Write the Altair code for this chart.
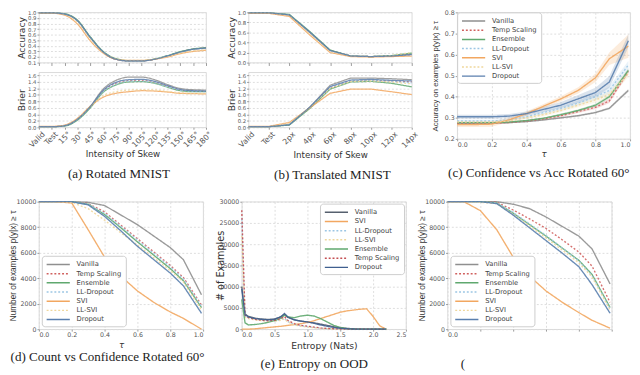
import altair as alt
import pandas as pd

# ---------------- shared ----------------
methods = ["Vanilla", "Temp Scaling", "Ensemble", "LL-Dropout", "SVI", "LL-SVI", "Dropout"]
method_colors = ["#8f8f8f", "#d0605e", "#5fa86e", "#9cc6e4", "#f2a760", "#efd79c", "#5a7fae"]
method_dashes = [[1, 0], [2, 2], [1, 0], [2, 2], [1, 0], [2, 2], [1, 0]]

e_methods = ["Vanilla", "SVI", "LL-Dropout", "LL-SVI", "Ensemble", "Temp Scaling", "Dropout"]
e_colors = ["#56606e", "#f2a760", "#9cc6e4", "#efd79c", "#5fa86e", "#c44e52", "#3f5f8f"]
e_dashes = [[1, 0], [1, 0], [2, 2], [2, 2], [1, 0], [2, 2], [1, 0]]

# ---------------- (a) Rotated MNIST ----------------
a_x = ["Valid", "Test", "15°", "30°", "45°", "60°", "75°", "90°", "105°", "120°", "135°", "150°", "165°", "180°"]
a_acc = {
    "Vanilla":      [0.99, 0.99, 0.97, 0.85, 0.55, 0.29, 0.16, 0.13, 0.13, 0.16, 0.22, 0.29, 0.34, 0.36],
    "Temp Scaling": [0.99, 0.99, 0.97, 0.85, 0.55, 0.29, 0.16, 0.13, 0.13, 0.16, 0.22, 0.29, 0.34, 0.36],
    "Ensemble":     [0.99, 0.99, 0.975, 0.86, 0.56, 0.30, 0.17, 0.135, 0.135, 0.165, 0.225, 0.295, 0.345, 0.365],
    "LL-Dropout":   [0.99, 0.99, 0.97, 0.84, 0.54, 0.29, 0.16, 0.13, 0.13, 0.16, 0.22, 0.28, 0.33, 0.35],
    "SVI":          [0.985, 0.985, 0.95, 0.79, 0.49, 0.27, 0.16, 0.14, 0.14, 0.16, 0.20, 0.26, 0.30, 0.32],
    "LL-SVI":       [0.99, 0.99, 0.96, 0.82, 0.52, 0.28, 0.17, 0.14, 0.14, 0.16, 0.21, 0.27, 0.31, 0.33],
    "Dropout":      [0.99, 0.99, 0.97, 0.85, 0.55, 0.29, 0.16, 0.13, 0.13, 0.16, 0.22, 0.29, 0.34, 0.36],
}
a_brier = {
    "Vanilla":      [0.02, 0.02, 0.05, 0.25, 0.65, 1.18, 1.45, 1.55, 1.55, 1.47, 1.32, 1.20, 1.16, 1.15],
    "Temp Scaling": [0.02, 0.02, 0.05, 0.24, 0.63, 1.12, 1.36, 1.44, 1.45, 1.39, 1.27, 1.15, 1.12, 1.11],
    "Ensemble":     [0.02, 0.02, 0.04, 0.22, 0.60, 1.08, 1.31, 1.40, 1.41, 1.36, 1.24, 1.13, 1.10, 1.10],
    "LL-Dropout":   [0.02, 0.02, 0.05, 0.24, 0.63, 1.10, 1.33, 1.42, 1.43, 1.37, 1.25, 1.14, 1.11, 1.10],
    "SVI":          [0.03, 0.03, 0.07, 0.28, 0.65, 0.93, 1.05, 1.10, 1.13, 1.12, 1.09, 1.05, 1.04, 1.03],
    "LL-SVI":       [0.02, 0.02, 0.06, 0.26, 0.64, 0.98, 1.10, 1.15, 1.16, 1.15, 1.11, 1.07, 1.05, 1.05],
    "Dropout":      [0.02, 0.02, 0.05, 0.25, 0.64, 1.14, 1.39, 1.47, 1.48, 1.42, 1.29, 1.17, 1.13, 1.12],
}

# ---------------- (b) Translated MNIST ----------------
b_x = ["Valid", "Test", "2px", "4px", "6px", "8px", "10px", "12px", "14px"]
b_acc = {
    "Vanilla":      [0.99, 0.99, 0.95, 0.60, 0.24, 0.13, 0.12, 0.13, 0.17],
    "Temp Scaling": [0.99, 0.99, 0.95, 0.60, 0.24, 0.13, 0.12, 0.13, 0.17],
    "Ensemble":     [0.99, 0.99, 0.96, 0.62, 0.25, 0.13, 0.12, 0.14, 0.19],
    "LL-Dropout":   [0.99, 0.99, 0.95, 0.59, 0.23, 0.13, 0.12, 0.13, 0.15],
    "SVI":          [0.98, 0.98, 0.92, 0.55, 0.20, 0.12, 0.11, 0.12, 0.13],
    "LL-SVI":       [0.99, 0.99, 0.94, 0.57, 0.22, 0.13, 0.12, 0.14, 0.20],
    "Dropout":      [0.99, 0.99, 0.95, 0.61, 0.24, 0.13, 0.12, 0.13, 0.16],
}
b_brier = {
    "Vanilla":      [0.02, 0.02, 0.08, 0.62, 1.30, 1.52, 1.52, 1.50, 1.47],
    "Temp Scaling": [0.02, 0.02, 0.08, 0.60, 1.22, 1.43, 1.45, 1.43, 1.40],
    "Ensemble":     [0.02, 0.02, 0.07, 0.58, 1.18, 1.40, 1.42, 1.36, 1.25],
    "LL-Dropout":   [0.02, 0.02, 0.09, 0.61, 1.24, 1.44, 1.45, 1.42, 1.37],
    "SVI":          [0.03, 0.03, 0.15, 0.60, 1.05, 1.18, 1.18, 1.10, 1.01],
    "LL-SVI":       [0.02, 0.02, 0.12, 0.62, 1.20, 1.41, 1.43, 1.40, 1.34],
    "Dropout":      [0.02, 0.02, 0.08, 0.62, 1.26, 1.46, 1.48, 1.45, 1.43],
}

# ---------------- (c) Confidence vs Acc Rotated 60 ----------------
tau = [0.0, 0.1, 0.2, 0.3, 0.4, 0.5, 0.6, 0.7, 0.8, 0.88, 0.99]
c_acc = {
    "Vanilla":      [0.275, 0.275, 0.275, 0.277, 0.282, 0.29, 0.30, 0.31, 0.325, 0.345, 0.43],
    "Temp Scaling": [0.275, 0.275, 0.275, 0.278, 0.285, 0.295, 0.31, 0.33, 0.35, 0.38, 0.52],
    "Ensemble":     [0.277, 0.277, 0.277, 0.28, 0.287, 0.298, 0.315, 0.335, 0.36, 0.40, 0.525],
    "LL-Dropout":   [0.285, 0.285, 0.285, 0.29, 0.305, 0.325, 0.345, 0.37, 0.40, 0.43, 0.55],
    "SVI":          [0.268, 0.268, 0.27, 0.29, 0.32, 0.355, 0.39, 0.43, 0.49, 0.58, 0.64],
    "LL-SVI":       [0.28, 0.28, 0.28, 0.285, 0.30, 0.315, 0.335, 0.36, 0.385, 0.41, 0.51],
    "Dropout":      [0.305, 0.305, 0.305, 0.308, 0.32, 0.34, 0.36, 0.39, 0.42, 0.47, 0.665],
}
c_spread = {
    "Vanilla":      [0.003, 0.003, 0.003, 0.003, 0.003, 0.004, 0.004, 0.005, 0.005, 0.006, 0.008],
    "Temp Scaling": [0.004, 0.004, 0.004, 0.004, 0.004, 0.005, 0.006, 0.007, 0.008, 0.01, 0.012],
    "Ensemble":     [0.003, 0.003, 0.003, 0.003, 0.004, 0.004, 0.005, 0.006, 0.007, 0.008, 0.01],
    "LL-Dropout":   [0.006, 0.006, 0.006, 0.006, 0.007, 0.008, 0.01, 0.012, 0.015, 0.018, 0.02],
    "SVI":          [0.012, 0.012, 0.012, 0.01, 0.01, 0.01, 0.012, 0.015, 0.02, 0.03, 0.055],
    "LL-SVI":       [0.005, 0.005, 0.005, 0.005, 0.006, 0.007, 0.008, 0.01, 0.012, 0.015, 0.018],
    "Dropout":      [0.01, 0.01, 0.01, 0.01, 0.01, 0.012, 0.015, 0.018, 0.022, 0.028, 0.03],
}

# ---------------- (d) Count vs Confidence Rotated 60 ----------------
d_count = {
    "Vanilla":      [10000, 10000, 10000, 9950, 9700, 8950, 8200, 7300, 6400, 5450, 2700],
    "Temp Scaling": [10000, 10000, 10000, 9850, 9200, 8150, 7100, 6050, 5000, 4050, 1900],
    "Ensemble":     [10000, 10000, 10000, 9800, 9000, 7950, 6850, 5800, 4750, 3800, 1700],
    "LL-Dropout":   [10000, 10000, 10000, 9800, 9100, 8050, 7000, 5950, 4900, 3950, 1800],
    "SVI":          [10000, 10000, 9900, 7800, 5650, 4150, 3000, 2100, 1350, 850, 0],
    "LL-SVI":       [10000, 10000, 9950, 9450, 8550, 7550, 6600, 5600, 4600, 3700, 1500],
    "Dropout":      [10000, 10000, 10000, 9750, 8850, 7700, 6500, 5450, 4400, 3400, 1250],
}

# ---------------- (e) Entropy on OOD ----------------
e_x = [0.0, 0.05, 0.1, 0.2, 0.3, 0.4, 0.5, 0.6, 0.65, 0.7, 0.8, 0.9, 1.0, 1.1, 1.2, 1.3,
       1.4, 1.5, 1.6, 1.7, 1.8, 1.9, 2.0, 2.1, 2.2]
e_counts = {
    "Vanilla":      [10000, 3600, 3000, 2600, 2400, 2300, 2400, 2900, 3500, 2800, 2200, 1900, 1700,
                     1500, 1200, 900, 600, 350, 200, 100, 50, 20, 0, 0, 0],
    "SVI":          [0, 0, 20, 100, 250, 400, 550, 700, 800, 900, 1100, 1300, 1600, 2000, 2500, 3000,
                     3500, 4000, 4300, 4500, 4700, 4800, 3000, 800, 0],
    "LL-Dropout":   [26000, 3000, 2700, 2400, 2200, 2000, 2000, 2200, 2600, 1800, 1100, 800, 600,
                     400, 250, 150, 80, 40, 20, 10, 0, 0, 0, 0, 0],
    "LL-SVI":       [22000, 2800, 2500, 2200, 2000, 1900, 1900, 2100, 2400, 1700, 1000, 700, 500,
                     350, 200, 120, 60, 30, 10, 0, 0, 0, 0, 0, 0],
    "Ensemble":     [7000, 1500, 1000, 1100, 1300, 1600, 2000, 2600, 3300, 2900, 2700, 3100, 3300,
                     3100, 2500, 1700, 900, 400, 150, 50, 0, 0, 0, 0, 0],
    "Temp Scaling": [28000, 3300, 2700, 2300, 2100, 2000, 2100, 2500, 3000, 2100, 1300, 900, 700,
                     500, 300, 180, 100, 50, 20, 0, 0, 0, 0, 0, 0],
    "Dropout":      [9500, 3400, 2900, 2500, 2300, 2200, 2300, 3000, 3700, 2900, 2200, 1900, 1700,
                     1400, 1000, 700, 400, 200, 100, 40, 10, 0, 0, 0, 0],
}

# ---------------- (f) Count vs Confidence ----------------
f_count = {
    "Vanilla":      [10000, 10000, 10000, 10000, 9800, 9450, 8800, 8050, 7300, 6300, 3550],
    "Temp Scaling": [10000, 10000, 10000, 9950, 9350, 8650, 7900, 7000, 6050, 4950, 2100],
    "Ensemble":     [10000, 10000, 10000, 9900, 9100, 8200, 7300, 6350, 5400, 4300, 1700],
    "LL-Dropout":   [10000, 10000, 10000, 9900, 9150, 8250, 7350, 6350, 5350, 4200, 1600],
    "SVI":          [10000, 10000, 9300, 7800, 5650, 4150, 3000, 2100, 1300, 700, 80],
    "LL-SVI":       [10000, 10000, 9950, 9850, 9000, 8100, 7150, 6200, 5200, 4100, 1500],
    "Dropout":      [10000, 10000, 10000, 9850, 8950, 7950, 6950, 5950, 4900, 3500, 1250],
}


def to_long(xs, series, yname, extra=None):
    rows = []
    for m, vals in series.items():
        for i, (x, v) in enumerate(zip(xs, vals)):
            r = {"x": x, yname: v, "method": m, "order": i}
            if extra is not None:
                r["lo"] = v - extra[m][i]
                r["hi"] = v + extra[m][i]
            rows.append(r)
    return pd.DataFrame(rows)


LBL = dict(labelFontSize=6.5, labelColor="#555555", labelFont="DejaVu Sans",
           titleFont="DejaVu Sans", titleFontWeight="normal", titleColor="#333333",
           tickColor="#999999", tickSize=2, labelPadding=1, gridColor="#dddddd",
           gridDash=[2, 2], domain=False, labelOverlap=False)


def ax(**kw):
    d = dict(LBL)
    d.update(kw)
    return alt.Axis(**d)


def color_enc(order, cols, legend):
    return alt.Color("method:N", scale=alt.Scale(domain=order, range=cols), legend=legend)


def dash_enc(order, dashes, legend):
    return alt.StrokeDash("method:N", scale=alt.Scale(domain=order, range=dashes), legend=legend)


def leg(orient, offset=2):
    return alt.Legend(orient=orient, title=None, symbolType="M-3,0L3,0", symbolSize=64,
                      symbolStrokeWidth=1.5, symbolOffset=8, labelFontSize=7,
                      labelColor="#444444", labelFont="DejaVu Sans", rowPadding=1.5,
                      padding=4, offset=offset, fillColor="white", strokeColor="#cccccc",
                      cornerRadius=3, labelOffset=14, symbolOpacity=1)


def caption(text, offset, dx=0, frame="group"):
    return alt.TitleParams(text, orient="bottom", anchor="middle", frame=frame,
                           font="Liberation Serif", fontSize=13.5, fontWeight="normal",
                           color="#222222", offset=offset, dx=dx)


def skew_panel(xs, acc, brier, acc_dom, acc_vals, width, interp, title):
    da = to_long(xs, acc, "v")
    db = to_long(xs, brier, "v")
    xscale = alt.Scale(type="point", padding=0)
    top = alt.Chart(da).mark_line(interpolate=interp, strokeWidth=1.3, opacity=0.85).encode(
        x=alt.X("x:N", sort=xs, scale=xscale, axis=ax(labels=False, title=None, tickSize=3)),
        y=alt.Y("v:Q", scale=alt.Scale(domain=acc_dom, nice=False),
                axis=ax(values=acc_vals, format=".1f", title="Accuracy", titleFontSize=9.5,
                        titlePadding=2, minExtent=11, maxExtent=11, labelFontSize=5.5)),
        color=color_enc(methods, method_colors, None),
        strokeDash=dash_enc(methods, method_dashes, None),
        order="order:Q",
    ).properties(width=width, height=52)
    bot = alt.Chart(db).mark_line(interpolate=interp, strokeWidth=1.3, opacity=0.85).encode(
        x=alt.X("x:N", sort=xs, scale=xscale,
                axis=ax(title="Intensity of Skew", labelAngle=-45, labelAlign="right",
                        labelBaseline="top", labelOffset=2, titleFontSize=9,
                        titlePadding=1, labelFontSize=8)),
        y=alt.Y("v:Q", scale=alt.Scale(domain=[0, 1.7], nice=False),
                axis=ax(values=[0, 0.2, 0.4, 0.6, 0.8, 1.0, 1.2, 1.4, 1.6], format=".1f",
                        title="Brier", titleFontSize=9.5, titlePadding=2,
                        minExtent=11, maxExtent=11, labelFontSize=5.5)),
        color=color_enc(methods, method_colors, None),
        strokeDash=dash_enc(methods, method_dashes, None),
        order="order:Q",
    ).properties(width=width, height=57)
    return alt.vconcat(top, bot, spacing=5).properties(title=title).resolve_scale(
        color="independent", strokeDash="independent")


panel_a = skew_panel(a_x, a_acc, a_brier, [0.1, 1.0],
                     [0.1, 0.2, 0.3, 0.4, 0.5, 0.6, 0.7, 0.8, 0.9, 1.0], 173, "monotone",
                     caption("(a) Rotated MNIST", 9, 4, "bounds"))
panel_b = skew_panel(b_x, b_acc, b_brier, [0.0, 1.0],
                     [0.0, 0.2, 0.4, 0.6, 0.8, 1.0], 169, "linear",
                     caption("(b) Translated MNIST", 9, 10, "bounds"))

# (c)
dc = to_long(tau, c_acc, "v", c_spread)
tau_axis = dict(values=[0, 0.2, 0.4, 0.6, 0.8, 1.0], format=".1f", title="τ",
                titleFontSize=9, titleFontStyle="italic", titlePadding=2)
c_xaxis = ax(**tau_axis)
c_yaxis = ax(values=[0.2, 0.3, 0.4, 0.5, 0.6, 0.7, 0.8], format=".1f",
             title="Accuracy on examples p(y|x) ≥ τ", titleFontSize=8,
             titleFont="Liberation Sans", titlePadding=3, minExtent=15, maxExtent=15)
c_xscale = alt.Scale(domain=[0, 1])
c_yscale = alt.Scale(domain=[0.2, 0.8], nice=False)
c_legend = leg("top-left", 0)
band_c = alt.Chart(dc).mark_area(opacity=0.22).encode(
    x=alt.X("x:Q", scale=c_xscale, axis=c_xaxis),
    y=alt.Y("lo:Q", scale=c_yscale, axis=c_yaxis), y2="hi:Q",
    color=color_enc(methods, method_colors, c_legend),
)
line_c = alt.Chart(dc).mark_line(strokeWidth=1.4, opacity=0.9).encode(
    x=alt.X("x:Q", scale=c_xscale, axis=c_xaxis),
    y=alt.Y("v:Q", scale=c_yscale, axis=c_yaxis),
    color=color_enc(methods, method_colors, c_legend),
    strokeDash=dash_enc(methods, method_dashes, c_legend),
    order="order:Q",
)
panel_c = alt.layer(band_c, line_c).properties(
    width=179, height=131, title=caption("(c) Confidence vs Acc Rotated 60°", 8, -5))


def count_panel(series, title, extent, xlabels_all=True):
    d = to_long(tau, series, "v")
    xa = dict(tau_axis)
    if not xlabels_all:
        xa["title"] = None
        xa["labelExpr"] = "datum.value == 0 ? '0.0' : ''"
    return alt.Chart(d).mark_line(strokeWidth=1.4, opacity=0.9).encode(
        x=alt.X("x:Q", scale=alt.Scale(domain=[0, 1]), axis=ax(**xa)),
        y=alt.Y("v:Q", scale=alt.Scale(domain=[0, 10000], nice=False),
                axis=ax(values=[0, 2000, 4000, 6000, 8000, 10000], format="d",
                        title="Number of examples p(y|x) ≥ τ", titleFontSize=8.5,
                        titleFont="Liberation Sans", titlePadding=3,
                        minExtent=extent, maxExtent=extent)),
        color=color_enc(methods, method_colors, leg("bottom-left", 3)),
        strokeDash=dash_enc(methods, method_dashes, leg("bottom-left", 3)),
        order="order:Q",
    ).properties(width=170, height=132, title=title)


panel_d = count_panel(d_count, caption("(d) Count vs Confidence Rotated 60°", 1, -14), 19)
panel_f = count_panel(f_count, caption("(", 20, -69), 19, xlabels_all=False)

de = to_long(e_x, e_counts, "v")
panel_e = alt.Chart(de).mark_line(strokeWidth=1.4, opacity=0.9).encode(
    x=alt.X("x:Q", scale=alt.Scale(domain=[0, 2.5], nice=False),
            axis=ax(values=[0, 0.5, 1.0, 1.5, 2.0, 2.5], format=".1f",
                    title="Entropy (Nats)", titleFontSize=9.5, titlePadding=2)),
    y=alt.Y("v:Q", scale=alt.Scale(domain=[0, 30000], nice=False),
            axis=ax(values=[0, 5000, 10000, 15000, 20000, 25000, 30000], format="d",
                    title="# of Examples", titleFontSize=10, titlePadding=1,
                    minExtent=16, maxExtent=16)),
    color=color_enc(e_methods, e_colors, leg("top-right", 2)),
    strokeDash=dash_enc(e_methods, e_dashes, leg("top-right", 2)),
    order="order:Q",
).properties(width=170, height=132, title=caption("(e) Entropy on OOD", 8, -10))

row1 = alt.hconcat(panel_a, panel_b, panel_c, spacing=11).resolve_scale(
    color="independent", strokeDash="independent")
row2 = alt.hconcat(panel_d, panel_e, panel_f, spacing=10).resolve_scale(
    color="independent", strokeDash="independent")

chart = alt.vconcat(row1, row2, spacing=17).resolve_scale(
    color="independent", strokeDash="independent").properties(
    padding={"left": 0, "top": -6, "right": 0, "bottom": 0},
    background="white").configure_view(stroke="#cfcfcf", strokeWidth=0.8)

chart.save("out.html", embed_options={"renderer": "svg", "actions": False})
